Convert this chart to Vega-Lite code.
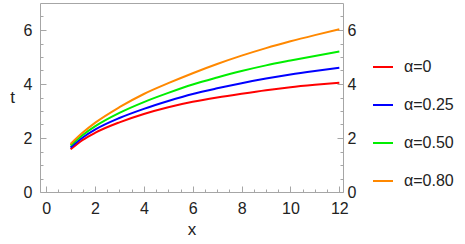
{
  "$schema": "https://vega.github.io/schema/vega-lite/v6.json",
  "width": 303,
  "height": 189,
  "autosize": {"type": "none"},
  "padding": {"left": 40, "top": 3, "right": 122, "bottom": 52},
  "background": "white",
  "config": {
    "view": {"stroke": "#a6a6a6", "strokeWidth": 1},
    "font": "Liberation Sans",
    "axis": {"domain": false, "grid": false, "tickColor": "#a6a6a6", "labelColor": "#222222", "labelFont": "Liberation Sans", "labelFontSize": 16, "titleFont": "Liberation Sans", "titleFontSize": 17, "titleFontWeight": "normal", "titleColor": "#222222"},
    "legend": {"labelFont": "Liberation Sans", "labelFontSize": 16, "labelColor": "#222222"}
  },
  "data": {"values": [
    {"x": 1, "t": 1.58, "alpha": "α=0"}, {"x": 1.5, "t": 1.93, "alpha": "α=0"}, {"x": 2, "t": 2.19, "alpha": "α=0"}, {"x": 3, "t": 2.58, "alpha": "α=0"}, {"x": 4, "t": 2.89, "alpha": "α=0"}, {"x": 5, "t": 3.14, "alpha": "α=0"}, {"x": 6, "t": 3.34, "alpha": "α=0"}, {"x": 7, "t": 3.5, "alpha": "α=0"}, {"x": 8, "t": 3.64, "alpha": "α=0"}, {"x": 9, "t": 3.77, "alpha": "α=0"}, {"x": 10, "t": 3.88, "alpha": "α=0"}, {"x": 11, "t": 3.97, "alpha": "α=0"}, {"x": 12, "t": 4.05, "alpha": "α=0"},
    {"x": 1, "t": 1.65, "alpha": "α=0.25"}, {"x": 1.5, "t": 2.02, "alpha": "α=0.25"}, {"x": 2, "t": 2.31, "alpha": "α=0.25"}, {"x": 3, "t": 2.74, "alpha": "α=0.25"}, {"x": 4, "t": 3.08, "alpha": "α=0.25"}, {"x": 5, "t": 3.37, "alpha": "α=0.25"}, {"x": 6, "t": 3.63, "alpha": "α=0.25"}, {"x": 7, "t": 3.84, "alpha": "α=0.25"}, {"x": 8, "t": 4.03, "alpha": "α=0.25"}, {"x": 9, "t": 4.2, "alpha": "α=0.25"}, {"x": 10, "t": 4.35, "alpha": "α=0.25"}, {"x": 11, "t": 4.48, "alpha": "α=0.25"}, {"x": 12, "t": 4.6, "alpha": "α=0.25"},
    {"x": 1, "t": 1.72, "alpha": "α=0.50"}, {"x": 1.5, "t": 2.11, "alpha": "α=0.50"}, {"x": 2, "t": 2.43, "alpha": "α=0.50"}, {"x": 3, "t": 2.93, "alpha": "α=0.50"}, {"x": 4, "t": 3.33, "alpha": "α=0.50"}, {"x": 5, "t": 3.67, "alpha": "α=0.50"}, {"x": 6, "t": 3.98, "alpha": "α=0.50"}, {"x": 7, "t": 4.24, "alpha": "α=0.50"}, {"x": 8, "t": 4.48, "alpha": "α=0.50"}, {"x": 9, "t": 4.69, "alpha": "α=0.50"}, {"x": 10, "t": 4.87, "alpha": "α=0.50"}, {"x": 11, "t": 5.04, "alpha": "α=0.50"}, {"x": 12, "t": 5.2, "alpha": "α=0.50"},
    {"x": 1, "t": 1.78, "alpha": "α=0.80"}, {"x": 1.5, "t": 2.2, "alpha": "α=0.80"}, {"x": 2, "t": 2.56, "alpha": "α=0.80"}, {"x": 3, "t": 3.14, "alpha": "α=0.80"}, {"x": 4, "t": 3.63, "alpha": "α=0.80"}, {"x": 5, "t": 4.03, "alpha": "α=0.80"}, {"x": 6, "t": 4.4, "alpha": "α=0.80"}, {"x": 7, "t": 4.74, "alpha": "α=0.80"}, {"x": 8, "t": 5.05, "alpha": "α=0.80"}, {"x": 9, "t": 5.33, "alpha": "α=0.80"}, {"x": 10, "t": 5.58, "alpha": "α=0.80"}, {"x": 11, "t": 5.81, "alpha": "α=0.80"}, {"x": 12, "t": 6.03, "alpha": "α=0.80"}
  ]},
  "resolve": {"axis": {"x": "independent", "y": "independent"}},
  "layer": [
    {
      "mark": {"type": "line", "strokeWidth": 2, "interpolate": "monotone"},
      "encoding": {
        "x": {"field": "x", "type": "quantitative", "scale": {"domain": [-0.25, 12.15], "nice": false, "zero": false},
              "axis": {"orient": "bottom", "values": [0, 2, 4, 6, 8, 10, 12], "tickSize": -6, "labelPadding": 14, "title": "x", "titlePadding": 5}},
        "y": {"field": "t", "type": "quantitative", "scale": {"domain": [0, 7], "nice": false},
              "axis": {"orient": "left", "values": [0, 2, 4, 6], "tickSize": -6, "labelPadding": 14, "title": "t", "titleAngle": 0, "titlePadding": 11, "titleBaseline": "middle"}},
        "color": {"field": "alpha", "type": "nominal",
                  "scale": {"domain": ["α=0", "α=0.25", "α=0.50", "α=0.80"], "range": ["#ff0000", "#0000ff", "#00ee00", "#ff8800"]},
                  "legend": {"title": null, "orient": "none", "legendX": 332, "legendY": 53, "symbolType": "stroke", "symbolSize": 400, "symbolStrokeWidth": 2, "labelOffset": 10, "rowPadding": 19, "padding": 0}}
      }
    },
    {
      "mark": {"type": "line", "opacity": 0},
      "encoding": {
        "x": {"field": "x", "type": "quantitative",
              "axis": {"orient": "bottom", "values": [0.5, 1, 1.5, 2.5, 3, 3.5, 4.5, 5, 5.5, 6.5, 7, 7.5, 8.5, 9, 9.5, 10.5, 11, 11.5], "tickSize": -3, "labels": false, "title": null}},
        "y": {"field": "t", "type": "quantitative",
              "axis": {"orient": "right", "values": [0, 2, 4, 6], "tickSize": -6, "labelPadding": 10, "title": null}}
      }
    },
    {
      "mark": {"type": "line", "opacity": 0},
      "encoding": {
        "x": {"field": "x", "type": "quantitative", "axis": null},
        "y": {"field": "t", "type": "quantitative",
              "axis": {"orient": "left", "values": [0.5, 1, 1.5, 2.5, 3, 3.5, 4.5, 5, 5.5, 6.5], "tickSize": -3, "labels": false, "title": null}}
      }
    },
    {
      "mark": {"type": "line", "opacity": 0},
      "encoding": {
        "x": {"field": "x", "type": "quantitative", "axis": null},
        "y": {"field": "t", "type": "quantitative",
              "axis": {"orient": "right", "values": [0.5, 1, 1.5, 2.5, 3, 3.5, 4.5, 5, 5.5, 6.5], "tickSize": -3, "labels": false, "title": null}}
      }
    }
  ]
}
